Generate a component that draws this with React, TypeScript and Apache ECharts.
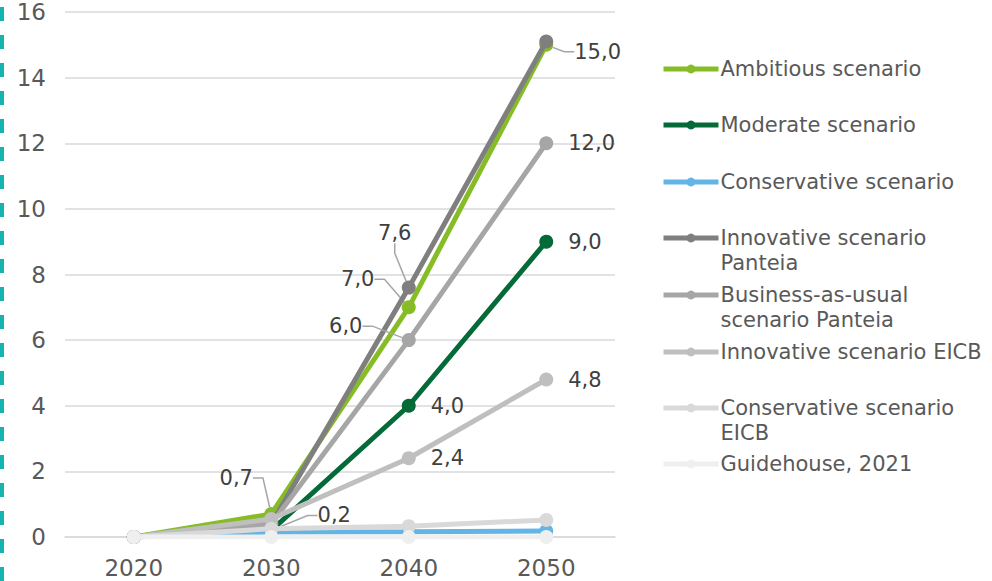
import React, { useEffect, useRef } from "react";
import * as echarts from "echarts";

const years = ["2020", "2030", "2040", "2050"];
const yTicks = { min: 0, max: 16, interval: 2 };

const ambitious = [0, 0.7, 7.0, 15.0];
const moderate = [0, 0.2, 4.0, 9.0];
const conservative = [0, 0.15, 0.16, 0.18];
const innovativePanteia = [0, 0.4, 7.6, 15.1];
const bauPanteia = [0, 0.4, 6.0, 12.0];
const innovativeEICB = [0, 0.55, 2.4, 4.8];
const conservativeEICB = [0, 0.25, 0.33, 0.52];
const guidehouse = [0, 0, 0, 0];

const seriesNames = [
  "Ambitious scenario",
  "Moderate scenario",
  "Conservative scenario",
  "Innovative scenario Panteia",
  "Business-as-usual scenario Panteia",
  "Innovative scenario EICB",
  "Conservative scenario EICB",
  "Guidehouse, 2021",
];
const legendLines = [
  ["Ambitious scenario"],
  ["Moderate scenario"],
  ["Conservative scenario"],
  ["Innovative scenario", "Panteia"],
  ["Business-as-usual", "scenario Panteia"],
  ["Innovative scenario EICB"],
  ["Conservative scenario", "EICB"],
  ["Guidehouse, 2021"],
];
const seriesValues = [
  ambitious,
  moderate,
  conservative,
  innovativePanteia,
  bauPanteia,
  innovativeEICB,
  conservativeEICB,
  guidehouse,
];
const colors = [
  "#86BC25",
  "#046A38",
  "#62B5E5",
  "#7F7F7F",
  "#A6A6A6",
  "#BFBFBF",
  "#D9D9D9",
  "#EFEFEF",
];

// which points carry a data label: [seriesIndex, dataIndex]
const endLabels: [number, number][] = [
  [1, 2],
  [1, 3],
  [4, 3],
  [5, 2],
  [5, 3],
];
// moved labels with leader lines: [seriesIndex, dataIndex, dx, dy]
const movedLabels: [number, number, number, number][] = [
  [0, 1, -35, -36],
  [1, 1, 63, -15],
  [0, 2, -51, -28],
  [3, 2, -14, -55],
  [4, 2, -63, -14],
];
const rightMoved: [number, number, number, number][] = [[0, 3, 6, 7]];

const FONT = "DejaVu Sans";
const fmt = (v: number) => v.toFixed(1).replace(".", ",");

const legendCenters = [69, 125, 182, 238, 295, 352, 408, 464];
const LH = 25;

export default function App() {
  const ref = useRef<HTMLDivElement>(null);
  useEffect(() => {
    if (!ref.current) return;
    const chart = echarts.init(ref.current, undefined, { renderer: "svg" });

    const labelText = {
      color: "#404040",
      fontSize: 21,
      fontFamily: FONT,
      formatter: (p: any) => fmt(p.value),
    };

    const series = seriesNames.map((name, si) => {
      const data = seriesValues[si].map((v, di) => {
        const item: any = { value: v };
        if (endLabels.some(([s, d]) => s === si && d === di)) {
          item.label = { show: true, position: "right", distance: 15, ...labelText };
        }
        if (movedLabels.some(([s, d]) => s === si && d === di)) {
          item.label = { show: true, position: "inside", ...labelText };
          item.labelLine = { show: true };
        }
        if (rightMoved.some(([s, d]) => s === si && d === di)) {
          item.label = { show: true, position: "right", distance: 15, ...labelText };
          item.labelLine = { show: true };
        }
        return item;
      });
      return {
        name,
        type: "line",
        data,
        symbol: "circle",
        symbolSize: 14,
        showSymbol: true,
        lineStyle: { color: colors[si], width: 5 },
        itemStyle: { color: colors[si] },
        label: { show: false },
        labelLine: {
          show: false,
          length2: 10,
          lineStyle: { color: "#A6A6A6", width: 1.5 },
        },
        labelLayout: (params: any) => {
          const m = movedLabels.find(([s, d]) => s === params.seriesIndex && d === params.dataIndex);
          if (m) return { dx: m[2], dy: m[3] };
          const r = rightMoved.find(([s, d]) => s === params.seriesIndex && d === params.dataIndex);
          if (r) return { dx: r[2], dy: r[3] };
          return {};
        },
        z: 2 + si,
      };
    });

    const legends = seriesNames.map((name, i) => {
      const lines = legendLines[i];
      // a blank first line keeps the icon level with the first text line
      const text = lines.length > 1 ? [" ", ...lines].join("\n") : lines[0];
      const nLines = lines.length > 1 ? 3 : 1;
      return {
        orient: "vertical",
        left: 661,
        top: legendCenters[i] - (nLines * LH) / 2,
        padding: 0,
        itemWidth: 55,
        itemHeight: 11,
        itemGap: 0,
        data: [name],
        formatter: () => text,
        lineStyle: { width: 5 },
        textStyle: {
          color: "#595959",
          fontSize: 21,
          fontFamily: FONT,
          lineHeight: LH,
          padding: [0, 0, 0, -3],
        },
        selectedMode: false,
      };
    });

    chart.setOption({
      animation: false,
      color: colors,
      grid: { left: 65, right: 377, top: 12, bottom: 44, containLabel: false },
      legend: legends,
      xAxis: {
        type: "category",
        data: years,
        boundaryGap: true,
        axisLine: { show: true, lineStyle: { color: "#D9D9D9", width: 1.5 } },
        axisTick: { show: false },
        axisLabel: { color: "#595959", fontSize: 23, fontFamily: FONT, margin: 19 },
      },
      yAxis: {
        type: "value",
        min: yTicks.min,
        max: yTicks.max,
        interval: yTicks.interval,
        axisLine: { show: false },
        axisTick: { show: false },
        splitLine: { lineStyle: { color: "#D9D9D9", width: 1.5 } },
        axisLabel: { color: "#595959", fontSize: 23, fontFamily: FONT, margin: 19 },
      },
      graphic: [
        {
          type: "line",
          shape: { x1: 2, y1: 0, x2: 2, y2: 581 },
          style: { stroke: "#14B4B0", lineWidth: 4, lineDash: [14, 14], lineDashOffset: -7 },
          silent: true,
        },
      ],
      series,
    });
    return () => chart.dispose();
  }, []);
  return <div ref={ref} style={{ width: 992, height: 581, position: "absolute", left: 0, top: 0 }} />;
}
